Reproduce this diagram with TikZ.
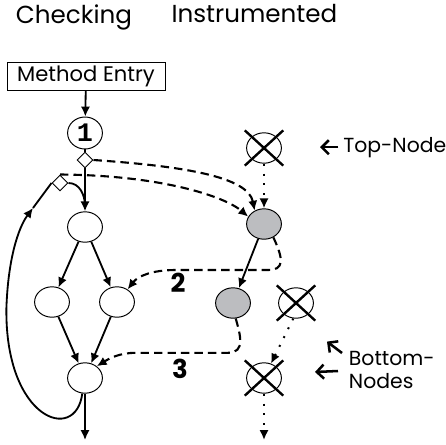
\documentclass[tikz,border=0pt]{standalone}
\usepackage{fontspec}
\setmainfont{Poppins}
\newfontfamily\numfont{Liberation Mono}
\usetikzlibrary{arrows.meta,shapes.geometric,positioning}
\definecolor{instgray}{RGB}{188,189,192}

\begin{document}
\begin{tikzpicture}[
  >={Latex[length=7pt,width=6.5pt]},
  blk/.style={ellipse, draw, line width=0.7pt, minimum width=0.87cm, minimum height=0.76cm, inner sep=0pt},
  inst/.style={blk, fill=instgray},
  check/.style={diamond, draw, line width=0.7pt, minimum size=0.4cm, inner sep=0pt, fill=white},
  flow/.style={line width=1.3pt},
  jump/.style={line width=1.5pt, dash pattern=on 6pt off 3.6pt},
  trace/.style={line width=1.4pt, dash pattern=on 1.4pt off 5.6pt},
  xline/.style={line width=1.7pt},
  hint/.style={line width=1.8pt, -{Straight Barb[length=5pt,width=10pt]}},
  big/.style={font=\fontsize{17.5}{19}\selectfont},
  mid/.style={font=\fontsize{14.5}{16.4}\selectfont},
  num/.style={font=\fontsize{18.5}{18.5}\selectfont\bfseries}
]
\useasboundingbox (0,0) rectangle (11.15,11.1);

\node [big, anchor=base] (chk) at (1.85,10.525) {Checking};
\node [big, anchor=base] (ins) at (6.36,10.55) {Instrumented};

% checking side
\node [draw, line width=0.7pt, minimum width=3.95cm, minimum height=0.7cm, inner sep=1pt, font=\fontsize{15}{16}\selectfont] (entry) at (2.15,9.2) {Method Entry};
\node [blk, minimum height=0.8cm, font=\numfont\bfseries\fontsize{19}{19}\selectfont] (one) at (2.125,7.775) {1};
\node [check] (d1) at (2.125,7.1) {};
\node [check] (d2) at (1.5,6.525) {};
\node [blk] (A) at (2.125,5.425) {};
\node [blk] (B) at (1.3,3.55) {};
\node [blk] (C) at (2.925,3.55) {};
\node [blk] (D) at (2.125,1.65) {};
\coordinate (merge) at (2.125,5.95);
\coordinate (back) at (0.825,5.9);
\coordinate (exit) at (2.125,0.1);

\draw [flow, ->] (entry) -- (one);
\draw [flow] (one) -- (d1);
\draw [flow, ->] (d1) -- (A);
\draw [flow] (d2.east) to[out=0, in=90] (merge);
\draw [flow, ->] (A) -- (B);
\draw [flow, ->] (A) -- (C);
\draw [flow, ->] (B) -- (D);
\draw [flow, ->] (C) -- (D);
\draw [flow, ->] (D) -- (exit);
\draw [flow, ->] (D.-100) .. controls (1.9,0.0) and (0.12,0.6) .. (0.16,3.4) .. controls (0.2,4.6) and (0.45,5.4) .. (back);
\draw [flow] (back) .. controls (1.05,6.2) .. (d2.west);

% instrumented side
\node [blk] (X1) at (6.6,7.4) {};
\node [inst] (G1) at (6.6,5.5) {};
\node [inst] (G2) at (5.825,3.525) {};
\node [blk] (X2) at (7.4,3.525) {};
\node [blk] (X3) at (6.6,1.65) {};
\coordinate (tail) at (6.6,0.1);
\foreach \k in {X1,X2,X3}
  \draw [xline] (\k) +(-0.48,0.44) -- +(0.48,-0.44) (\k) +(0.48,0.44) -- +(-0.48,-0.44);

\draw [trace, ->] (X1) -- (G1);
\draw [flow, ->] (G1) -- (G2);
\draw [trace, ->] (X2.-100) -- (X3.64);
\draw [trace, ->] (X3) -- (tail);

\draw [jump, ->] (d1.east) .. controls (4.5,6.95) and (6.2,6.7) .. (G1.125);
\draw [jump, ->] (d2.north) .. controls (4.0,6.72) and (5.6,6.2) .. (G1.155);
\draw [jump, ->] (G1.-55) .. controls (7.1,4.6) and (7.1,4.35) .. (6.7,4.35) -- (4.4,4.35) .. controls (3.8,4.35) and (3.45,4.2) .. (C.50);
\draw [jump, ->] (G2.-80) .. controls (6.0,2.75) and (6.15,2.28) .. (5.7,2.28) -- (3.4,2.28) .. controls (3.0,2.28) and (2.75,2.15) .. (D.45);

\node [num] (two) at (4.45,4.025) {2};
\node [num] (three) at (4.5,1.875) {3};

% notes
\node [mid, anchor=west] (topnote) at (8.46,7.42) {Top-Node};
\coordinate (toptip) at (8.0,7.42);
\draw [hint] (topnote.west) -- (toptip);

\node [mid, anchor=west, align=left] (botnote) at (8.6,1.85) {Bottom-\\Nodes};
\coordinate (botfrom) at (8.55,2.275);
\coordinate (botup) at (8.175,2.56);
\coordinate (botside) at (8.45,1.825);
\coordinate (botleft) at (7.875,1.8);
\draw [hint] (botfrom) -- (botup);
\draw [hint] (botside) -- (botleft);
\end{tikzpicture}
\end{document}
